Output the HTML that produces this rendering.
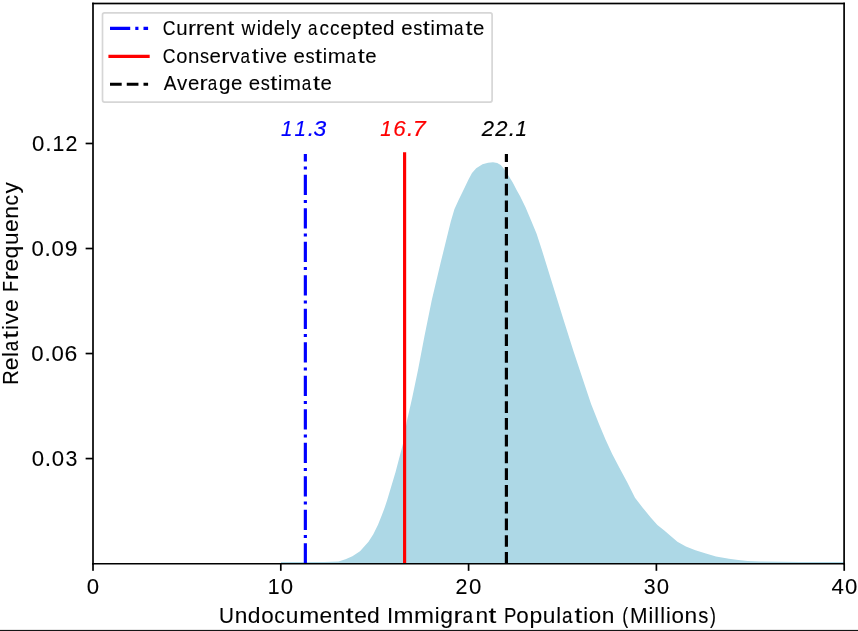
<!DOCTYPE html>
<html><head><meta charset="utf-8"><style>
html,body{margin:0;padding:0;background:#fff;width:858px;height:631px;overflow:hidden}
svg{display:block;will-change:transform}
text{font-family:"Liberation Sans",sans-serif}
</style></head><body>
<svg width="858" height="631" viewBox="0 0 858 631">
<polygon points="281,562.1 324.5,562.0 338.5,561.4 345.5,559.3 352.4,556.2 360,551.3 368.5,541.8 373.3,534.2 378,524.7 381.8,515.2 384.7,507.6 387.2,500 395.5,472.2 402.8,444.4 406.9,421.1 412.2,397.7 418,370 424.4,336.6 431.8,300 440.5,263.3 448.2,232 450.8,221.5 454.4,209.2 458.6,199.9 464.7,187.5 468.5,179.4 472,173.1 476.2,168.2 482.5,164.3 488.1,162.7 493,162.2 497.2,162.9 500.7,165 503.5,168.2 508.7,175.9 512.6,182.2 516.6,190 520,196.1 525.5,207.2 531.1,220.5 536.6,233.8 541.9,250 552.2,283.3 563.3,319 573.5,351.3 584.9,385.5 591.1,403.9 598.9,423.8 605.5,439.4 612.2,454 619.4,467.8 627.2,482.2 635,497.7 642.7,507.7 650.7,517.4 657.4,525 664,530.2 670.7,535.9 677.4,541.8 685.9,546.6 695.4,550.3 705.9,553.5 716,556.5 729,558.7 738.3,559.9 747.6,560.9 760.7,561.5 800,561.95 844.1,562.05 844.1,564 281,564" fill="#add8e6"/>
<line x1="305.35" y1="563.4" x2="305.35" y2="153.9" stroke="#0000ff" stroke-width="3.16" stroke-dasharray="20.22 5.06 3.16 5.06"/>
<line x1="404.6" y1="562.02" x2="404.6" y2="153.9" stroke="#ff0000" stroke-width="3.16" stroke-linecap="square"/>
<line x1="506.4" y1="563.6" x2="506.4" y2="153.9" stroke="#000000" stroke-width="3.16" stroke-dasharray="11.68 5.057"/>
<rect x="92.155" y="2.6550000000000002" width="752.7900000000001" height="1.69" fill="#000"/>
<rect x="92.155" y="563.0" width="752.7900000000001" height="1.5" fill="#000"/>
<rect x="92.155" y="2.6550000000000002" width="1.69" height="561.9100000000001" fill="#000"/>
<rect x="843.255" y="2.6550000000000002" width="1.69" height="561.9100000000001" fill="#000"/>
<rect x="92.16" y="563.45" width="1.69" height="7.37" fill="#000"/>
<text transform="translate(86.30 594.00)" y="0" font-size="22.33" fill="#000" stroke="#000" stroke-width="0.1"><tspan x="0.52" textLength="12.35" lengthAdjust="spacingAndGlyphs">0</tspan></text>
<rect x="279.95" y="563.45" width="1.69" height="7.37" fill="#000"/>
<text transform="translate(266.94 594.00)" y="0" font-size="22.33" fill="#000" stroke="#000" stroke-width="0.1"><tspan x="0.70" textLength="11.80" lengthAdjust="spacingAndGlyphs">1</tspan><tspan x="13.93" textLength="12.35" lengthAdjust="spacingAndGlyphs">0</tspan></text>
<rect x="467.75" y="563.45" width="1.69" height="7.37" fill="#000"/>
<text transform="translate(455.12 594.00)" y="0" font-size="22.33" fill="#000" stroke="#000" stroke-width="0.1"><tspan x="0.47" textLength="11.91" lengthAdjust="spacingAndGlyphs">2</tspan><tspan x="13.93" textLength="12.35" lengthAdjust="spacingAndGlyphs">0</tspan></text>
<rect x="655.55" y="563.45" width="1.69" height="7.37" fill="#000"/>
<text transform="translate(642.89 594.00)" y="0" font-size="22.33" fill="#000" stroke="#000" stroke-width="0.1"><tspan x="0.79" textLength="11.86" lengthAdjust="spacingAndGlyphs">3</tspan><tspan x="13.93" textLength="12.35" lengthAdjust="spacingAndGlyphs">0</tspan></text>
<rect x="843.36" y="563.45" width="1.69" height="7.37" fill="#000"/>
<text transform="translate(830.98 594.00)" y="0" font-size="22.33" fill="#000" stroke="#000" stroke-width="0.1"><tspan x="0.52" textLength="12.35" lengthAdjust="spacingAndGlyphs">4</tspan><tspan x="13.93" textLength="12.35" lengthAdjust="spacingAndGlyphs">0</tspan></text>
<rect x="85.63" y="457.73" width="7.37" height="1.69" fill="#000"/>
<text transform="translate(31.17 466.00)" y="0" font-size="22.33" fill="#000" stroke="#000" stroke-width="0.1"><tspan x="0.52" textLength="12.35" lengthAdjust="spacingAndGlyphs">0</tspan><tspan x="13.58" textLength="6.33" lengthAdjust="spacingAndGlyphs">.</tspan><tspan x="20.62" textLength="12.35" lengthAdjust="spacingAndGlyphs">0</tspan><tspan x="34.30" textLength="11.86" lengthAdjust="spacingAndGlyphs">3</tspan></text>
<rect x="85.63" y="352.69" width="7.37" height="1.69" fill="#000"/>
<text transform="translate(30.81 361.00)" y="0" font-size="22.33" fill="#000" stroke="#000" stroke-width="0.1"><tspan x="0.52" textLength="12.35" lengthAdjust="spacingAndGlyphs">0</tspan><tspan x="13.58" textLength="6.33" lengthAdjust="spacingAndGlyphs">.</tspan><tspan x="20.62" textLength="12.35" lengthAdjust="spacingAndGlyphs">0</tspan><tspan x="33.81" textLength="12.78" lengthAdjust="spacingAndGlyphs">6</tspan></text>
<rect x="85.63" y="247.67" width="7.37" height="1.69" fill="#000"/>
<text transform="translate(30.97 256.00)" y="0" font-size="22.33" fill="#000" stroke="#000" stroke-width="0.1"><tspan x="0.52" textLength="12.35" lengthAdjust="spacingAndGlyphs">0</tspan><tspan x="13.58" textLength="6.33" lengthAdjust="spacingAndGlyphs">.</tspan><tspan x="20.62" textLength="12.35" lengthAdjust="spacingAndGlyphs">0</tspan><tspan x="33.76" textLength="12.76" lengthAdjust="spacingAndGlyphs">9</tspan></text>
<rect x="85.63" y="142.64" width="7.37" height="1.69" fill="#000"/>
<text transform="translate(31.60 151.00)" y="0" font-size="22.33" fill="#000" stroke="#000" stroke-width="0.1"><tspan x="0.52" textLength="12.35" lengthAdjust="spacingAndGlyphs">0</tspan><tspan x="13.58" textLength="6.33" lengthAdjust="spacingAndGlyphs">.</tspan><tspan x="20.80" textLength="11.80" lengthAdjust="spacingAndGlyphs">1</tspan><tspan x="33.97" textLength="11.91" lengthAdjust="spacingAndGlyphs">2</tspan></text>
<text transform="translate(280.57 136.00)" y="0" font-size="22.33" font-style="italic" fill="#0000ff" stroke="#0000ff" stroke-width="0.2"><tspan x="0.50" textLength="11.46" lengthAdjust="spacingAndGlyphs">1</tspan><tspan x="13.90" textLength="11.46" lengthAdjust="spacingAndGlyphs">1</tspan><tspan x="27.14" textLength="6.40" lengthAdjust="spacingAndGlyphs">.</tspan><tspan x="33.01" textLength="12.74" lengthAdjust="spacingAndGlyphs">3</tspan></text>
<text transform="translate(379.77 136.00)" y="0" font-size="22.33" font-style="italic" fill="#ff0000" stroke="#ff0000" stroke-width="0.2"><tspan x="0.50" textLength="11.46" lengthAdjust="spacingAndGlyphs">1</tspan><tspan x="13.48" textLength="12.39" lengthAdjust="spacingAndGlyphs">6</tspan><tspan x="27.14" textLength="6.40" lengthAdjust="spacingAndGlyphs">.</tspan><tspan x="33.05" textLength="12.95" lengthAdjust="spacingAndGlyphs">7</tspan></text>
<text transform="translate(481.62 136.00)" y="0" font-size="22.33" font-style="italic" fill="#000" stroke="#000" stroke-width="0.2"><tspan x="0.21" textLength="12.21" lengthAdjust="spacingAndGlyphs">2</tspan><tspan x="13.62" textLength="12.21" lengthAdjust="spacingAndGlyphs">2</tspan><tspan x="27.14" textLength="6.40" lengthAdjust="spacingAndGlyphs">.</tspan><tspan x="34.00" textLength="11.46" lengthAdjust="spacingAndGlyphs">1</tspan></text>
<text transform="translate(218.87 623.00)" y="0" font-size="22.33" fill="#000" stroke="#000" stroke-width="0.1"><tspan x="0.23" textLength="14.95" lengthAdjust="spacingAndGlyphs">U</tspan><tspan x="15.83" textLength="12.63" lengthAdjust="spacingAndGlyphs">n</tspan><tspan x="28.98" textLength="12.74" lengthAdjust="spacingAndGlyphs">d</tspan><tspan x="42.37" textLength="12.46" lengthAdjust="spacingAndGlyphs">o</tspan><tspan x="55.31" textLength="10.57" lengthAdjust="spacingAndGlyphs">c</tspan><tspan x="66.94" textLength="12.63" lengthAdjust="spacingAndGlyphs">u</tspan><tspan x="80.30" textLength="20.00" lengthAdjust="spacingAndGlyphs">m</tspan><tspan x="100.70" textLength="12.66" lengthAdjust="spacingAndGlyphs">e</tspan><tspan x="113.87" textLength="12.63" lengthAdjust="spacingAndGlyphs">n</tspan><tspan x="126.96" textLength="7.82" lengthAdjust="spacingAndGlyphs">t</tspan><tspan x="135.28" textLength="12.66" lengthAdjust="spacingAndGlyphs">e</tspan><tspan x="148.25" textLength="12.74" lengthAdjust="spacingAndGlyphs">d</tspan> <tspan x="168.13" textLength="6.19" lengthAdjust="spacingAndGlyphs">I</tspan><tspan x="174.65" textLength="20.00" lengthAdjust="spacingAndGlyphs">m</tspan><tspan x="195.18" textLength="20.00" lengthAdjust="spacingAndGlyphs">m</tspan><tspan x="215.93" textLength="4.79" lengthAdjust="spacingAndGlyphs">i</tspan><tspan x="221.44" textLength="12.74" lengthAdjust="spacingAndGlyphs">g</tspan><tspan x="234.73" textLength="8.99" lengthAdjust="spacingAndGlyphs">r</tspan><tspan x="243.73" textLength="10.54" lengthAdjust="spacingAndGlyphs">a</tspan><tspan x="256.59" textLength="12.63" lengthAdjust="spacingAndGlyphs">n</tspan><tspan x="269.68" textLength="7.82" lengthAdjust="spacingAndGlyphs">t</tspan> <tspan x="285.04" textLength="12.43" lengthAdjust="spacingAndGlyphs">P</tspan><tspan x="297.42" textLength="12.46" lengthAdjust="spacingAndGlyphs">o</tspan><tspan x="310.53" textLength="12.75" lengthAdjust="spacingAndGlyphs">p</tspan><tspan x="323.78" textLength="12.63" lengthAdjust="spacingAndGlyphs">u</tspan><tspan x="337.36" textLength="4.79" lengthAdjust="spacingAndGlyphs">l</tspan><tspan x="343.14" textLength="10.54" lengthAdjust="spacingAndGlyphs">a</tspan><tspan x="355.73" textLength="7.82" lengthAdjust="spacingAndGlyphs">t</tspan><tspan x="364.39" textLength="4.79" lengthAdjust="spacingAndGlyphs">i</tspan><tspan x="369.92" textLength="12.46" lengthAdjust="spacingAndGlyphs">o</tspan><tspan x="383.00" textLength="12.63" lengthAdjust="spacingAndGlyphs">n</tspan> <tspan x="403.35" textLength="5.93" lengthAdjust="spacingAndGlyphs">(</tspan><tspan x="411.21" textLength="17.50" lengthAdjust="spacingAndGlyphs">M</tspan><tspan x="429.59" textLength="4.79" lengthAdjust="spacingAndGlyphs">i</tspan><tspan x="435.43" textLength="4.79" lengthAdjust="spacingAndGlyphs">l</tspan><tspan x="441.29" textLength="4.79" lengthAdjust="spacingAndGlyphs">l</tspan><tspan x="447.15" textLength="4.79" lengthAdjust="spacingAndGlyphs">i</tspan><tspan x="452.68" textLength="12.46" lengthAdjust="spacingAndGlyphs">o</tspan><tspan x="465.76" textLength="12.63" lengthAdjust="spacingAndGlyphs">n</tspan><tspan x="479.28" textLength="10.10" lengthAdjust="spacingAndGlyphs">s</tspan><tspan x="491.26" textLength="5.93" lengthAdjust="spacingAndGlyphs">)</tspan></text>
<text transform="translate(18.05 385.17) rotate(-90)" y="0" font-size="22.33" fill="#000" stroke="#000" stroke-width="0.1"><tspan x="0.41" textLength="14.55" lengthAdjust="spacingAndGlyphs">R</tspan><tspan x="14.84" textLength="12.66" lengthAdjust="spacingAndGlyphs">e</tspan><tspan x="28.14" textLength="4.79" lengthAdjust="spacingAndGlyphs">l</tspan><tspan x="33.92" textLength="10.54" lengthAdjust="spacingAndGlyphs">a</tspan><tspan x="46.51" textLength="7.82" lengthAdjust="spacingAndGlyphs">t</tspan><tspan x="55.17" textLength="4.79" lengthAdjust="spacingAndGlyphs">i</tspan><tspan x="61.03" textLength="11.37" lengthAdjust="spacingAndGlyphs">v</tspan><tspan x="73.15" textLength="12.66" lengthAdjust="spacingAndGlyphs">e</tspan> <tspan x="93.20" textLength="11.03" lengthAdjust="spacingAndGlyphs">F</tspan><tspan x="104.85" textLength="8.99" lengthAdjust="spacingAndGlyphs">r</tspan><tspan x="113.59" textLength="12.66" lengthAdjust="spacingAndGlyphs">e</tspan><tspan x="126.56" textLength="12.72" lengthAdjust="spacingAndGlyphs">q</tspan><tspan x="140.05" textLength="12.63" lengthAdjust="spacingAndGlyphs">u</tspan><tspan x="153.28" textLength="12.66" lengthAdjust="spacingAndGlyphs">e</tspan><tspan x="166.45" textLength="12.63" lengthAdjust="spacingAndGlyphs">n</tspan><tspan x="179.67" textLength="10.57" lengthAdjust="spacingAndGlyphs">c</tspan><tspan x="191.56" textLength="11.31" lengthAdjust="spacingAndGlyphs">y</tspan></text>
<rect x="102.5" y="12.9" width="389.6" height="89.2" rx="2" ry="2" fill="#fff" fill-opacity="0.8" stroke="#d6d6d6" stroke-width="1.69"/>
<line x1="110" y1="28.4" x2="148.1" y2="28.4" stroke="#0000ff" stroke-width="3.16" stroke-dasharray="20.22 5.06 3.16 5.06"/>
<line x1="110" y1="56.3" x2="148.1" y2="56.3" stroke="#ff0000" stroke-width="3.16" stroke-linecap="square"/>
<line x1="110" y1="84.25" x2="148.1" y2="84.25" stroke="#000" stroke-width="3.16" stroke-dasharray="11.69 5.06"/>
<text transform="translate(162.69 35.00)" y="0" font-size="20.10" fill="#000" stroke="#000" stroke-width="0.1"><tspan x="0.17" textLength="12.71" lengthAdjust="spacingAndGlyphs">C</tspan><tspan x="13.52" textLength="11.37" lengthAdjust="spacingAndGlyphs">u</tspan><tspan x="25.36" textLength="8.09" lengthAdjust="spacingAndGlyphs">r</tspan><tspan x="33.16" textLength="8.09" lengthAdjust="spacingAndGlyphs">r</tspan><tspan x="41.02" textLength="11.39" lengthAdjust="spacingAndGlyphs">e</tspan><tspan x="52.87" textLength="11.37" lengthAdjust="spacingAndGlyphs">n</tspan><tspan x="64.65" textLength="7.04" lengthAdjust="spacingAndGlyphs">t</tspan> <tspan x="78.81" textLength="13.84" lengthAdjust="spacingAndGlyphs">w</tspan><tspan x="93.98" textLength="4.31" lengthAdjust="spacingAndGlyphs">i</tspan><tspan x="98.94" textLength="11.46" lengthAdjust="spacingAndGlyphs">d</tspan><tspan x="110.97" textLength="11.39" lengthAdjust="spacingAndGlyphs">e</tspan><tspan x="122.94" textLength="4.31" lengthAdjust="spacingAndGlyphs">l</tspan><tspan x="128.25" textLength="10.18" lengthAdjust="spacingAndGlyphs">y</tspan> <tspan x="145.39" textLength="9.48" lengthAdjust="spacingAndGlyphs">a</tspan><tspan x="156.83" textLength="9.51" lengthAdjust="spacingAndGlyphs">c</tspan><tspan x="167.26" textLength="9.51" lengthAdjust="spacingAndGlyphs">c</tspan><tspan x="177.62" textLength="11.39" lengthAdjust="spacingAndGlyphs">e</tspan><tspan x="189.50" textLength="11.47" lengthAdjust="spacingAndGlyphs">p</tspan><tspan x="201.27" textLength="7.04" lengthAdjust="spacingAndGlyphs">t</tspan><tspan x="208.75" textLength="11.39" lengthAdjust="spacingAndGlyphs">e</tspan><tspan x="220.42" textLength="11.46" lengthAdjust="spacingAndGlyphs">d</tspan> <tspan x="238.48" textLength="11.39" lengthAdjust="spacingAndGlyphs">e</tspan><tspan x="250.49" textLength="9.09" lengthAdjust="spacingAndGlyphs">s</tspan><tspan x="259.97" textLength="7.04" lengthAdjust="spacingAndGlyphs">t</tspan><tspan x="267.77" textLength="4.31" lengthAdjust="spacingAndGlyphs">i</tspan><tspan x="272.84" textLength="18.00" lengthAdjust="spacingAndGlyphs">m</tspan><tspan x="291.43" textLength="9.48" lengthAdjust="spacingAndGlyphs">a</tspan><tspan x="302.76" textLength="7.04" lengthAdjust="spacingAndGlyphs">t</tspan><tspan x="310.25" textLength="11.39" lengthAdjust="spacingAndGlyphs">e</tspan></text>
<text transform="translate(162.69 63.00)" y="0" font-size="20.10" fill="#000" stroke="#000" stroke-width="0.1"><tspan x="0.17" textLength="12.71" lengthAdjust="spacingAndGlyphs">C</tspan><tspan x="13.44" textLength="11.21" lengthAdjust="spacingAndGlyphs">o</tspan><tspan x="25.20" textLength="11.37" lengthAdjust="spacingAndGlyphs">n</tspan><tspan x="37.38" textLength="9.09" lengthAdjust="spacingAndGlyphs">s</tspan><tspan x="46.91" textLength="11.39" lengthAdjust="spacingAndGlyphs">e</tspan><tspan x="58.51" textLength="8.09" lengthAdjust="spacingAndGlyphs">r</tspan><tspan x="66.69" textLength="10.23" lengthAdjust="spacingAndGlyphs">v</tspan><tspan x="77.83" textLength="9.48" lengthAdjust="spacingAndGlyphs">a</tspan><tspan x="89.16" textLength="7.04" lengthAdjust="spacingAndGlyphs">t</tspan><tspan x="96.96" textLength="4.31" lengthAdjust="spacingAndGlyphs">i</tspan><tspan x="102.23" textLength="10.23" lengthAdjust="spacingAndGlyphs">v</tspan><tspan x="113.13" textLength="11.39" lengthAdjust="spacingAndGlyphs">e</tspan> <tspan x="130.82" textLength="11.39" lengthAdjust="spacingAndGlyphs">e</tspan><tspan x="142.83" textLength="9.09" lengthAdjust="spacingAndGlyphs">s</tspan><tspan x="152.31" textLength="7.04" lengthAdjust="spacingAndGlyphs">t</tspan><tspan x="160.11" textLength="4.31" lengthAdjust="spacingAndGlyphs">i</tspan><tspan x="165.18" textLength="18.00" lengthAdjust="spacingAndGlyphs">m</tspan><tspan x="183.77" textLength="9.48" lengthAdjust="spacingAndGlyphs">a</tspan><tspan x="195.10" textLength="7.04" lengthAdjust="spacingAndGlyphs">t</tspan><tspan x="202.59" textLength="11.39" lengthAdjust="spacingAndGlyphs">e</tspan></text>
<text transform="translate(163.60 90.00)" y="0" font-size="20.10" fill="#000" stroke="#000" stroke-width="0.1"><tspan x="0.11" textLength="12.74" lengthAdjust="spacingAndGlyphs">A</tspan><tspan x="13.46" textLength="10.23" lengthAdjust="spacingAndGlyphs">v</tspan><tspan x="24.37" textLength="11.39" lengthAdjust="spacingAndGlyphs">e</tspan><tspan x="35.96" textLength="8.09" lengthAdjust="spacingAndGlyphs">r</tspan><tspan x="44.07" textLength="9.48" lengthAdjust="spacingAndGlyphs">a</tspan><tspan x="55.45" textLength="11.46" lengthAdjust="spacingAndGlyphs">g</tspan><tspan x="67.48" textLength="11.39" lengthAdjust="spacingAndGlyphs">e</tspan> <tspan x="85.17" textLength="11.39" lengthAdjust="spacingAndGlyphs">e</tspan><tspan x="97.18" textLength="9.09" lengthAdjust="spacingAndGlyphs">s</tspan><tspan x="106.66" textLength="7.04" lengthAdjust="spacingAndGlyphs">t</tspan><tspan x="114.46" textLength="4.31" lengthAdjust="spacingAndGlyphs">i</tspan><tspan x="119.53" textLength="18.00" lengthAdjust="spacingAndGlyphs">m</tspan><tspan x="138.12" textLength="9.48" lengthAdjust="spacingAndGlyphs">a</tspan><tspan x="149.45" textLength="7.04" lengthAdjust="spacingAndGlyphs">t</tspan><tspan x="156.94" textLength="11.39" lengthAdjust="spacingAndGlyphs">e</tspan></text>
<rect x="0" y="629.9" width="858" height="1.1" fill="#151515"/>
</svg>
</body></html>
